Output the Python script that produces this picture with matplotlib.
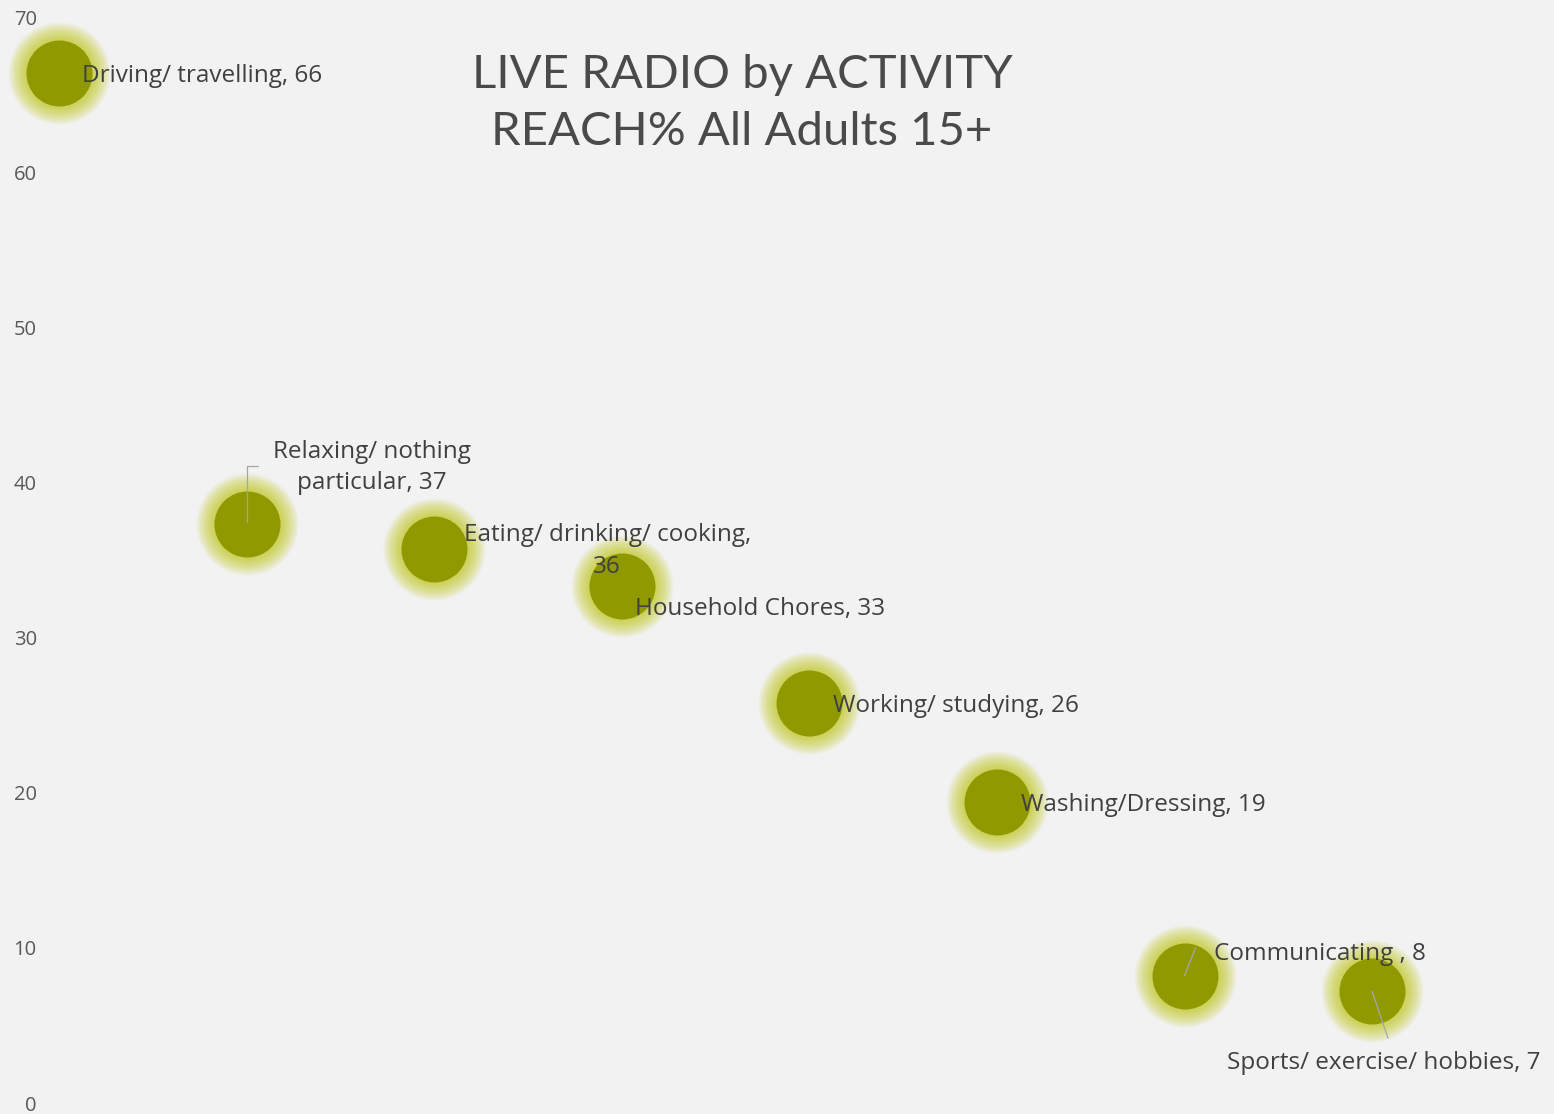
import matplotlib
matplotlib.use("Agg")
import matplotlib.pyplot as plt

# live radio reach by activity, all adults 15+
activities = ["Driving/ travelling", "Relaxing/ nothing\nparticular", "Eating/ drinking/ cooking,\n",
              "Household Chores", "Working/ studying", "Washing/Dressing",
              "Communicating ", "Sports/ exercise/ hobbies"]
reach = [66.4, 37.3, 35.7, 33.3, 25.8, 19.4, 8.2, 7.2]
order = [1, 2, 3, 4, 5, 6, 7, 8]
yticks = [0, 10, 20, 30, 40, 50, 60, 70]

# label offsets in pixels from each bubble centre, plus alignment
label_pos = [(23, -3, "left"), (125, 57, "center"), (173, -2, "center"), (13, -23, "left"),
             (24, -3, "left"), (24, -3, "left"), (29, 22, "left"), (-145, -72, "left")]

bg = "#f2f2f2"
core = "#919900"
glow = "#bcc400"
txt = "#404040"

plt.rcParams['font.family'] = ['Open Sans', 'DejaVu Sans']

fig = plt.figure(figsize=(15.54, 11.14), dpi=100, facecolor=bg)
ax = fig.add_axes([0.029, 0.00987, 0.971, 0.9748], facecolor=bg)

# soft glow: stacked translucent discs shrinking toward the core
for i in range(16):
    d = (66 + 36 * (1 - i / 15)) / 1.3889
    ax.scatter(order, reach, s=d ** 2, color=glow, alpha=0.06, linewidths=0, zorder=1, clip_on=False)
ax.scatter(order, reach, s=(66 / 1.3889) ** 2, color=core, linewidths=0, zorder=2, clip_on=False)

for x, y, name, (dx, dy, ha) in zip(order, reach, activities, label_pos):
    if name.endswith("\n"):
        text = name + str(round(y))
    else:
        text = name + ", " + str(round(y))
    ax.annotate(text, (x, y), xytext=(dx, dy), textcoords="offset pixels",
                ha=ha, va="center", fontsize=17.5, color=txt, zorder=4,
                linespacing=1.42, multialignment="center")

# leader lines
lc = "#a6a6a6"
ax.annotate("", (order[1], reach[1]), xytext=(14, 58), textcoords="offset pixels",
            arrowprops=dict(arrowstyle="-", color=lc, lw=0.9,
                            connectionstyle="angle,angleA=0,angleB=90,rad=0"), zorder=3)
ax.annotate("", (order[6], reach[6]), xytext=(11, 28), textcoords="offset pixels",
            arrowprops=dict(arrowstyle="-", color=lc, lw=0.9, shrinkA=0, shrinkB=0), zorder=3)
ax.annotate("", (order[7], reach[7]), xytext=(16, -47), textcoords="offset pixels",
            arrowprops=dict(arrowstyle="-", color=lc, lw=0.9, shrinkA=0, shrinkB=0), zorder=3)

ax.set_xlim(0.925, 8.97)
ax.set_ylim(0, 70)
ax.set_yticks(yticks)
ax.set_xticks([])
ax.tick_params(axis="y", length=0, pad=6, labelsize=14.5, labelcolor="#595959")
for s in ax.spines.values():
    s.set_visible(False)

fig.text(0.4775, 0.907, "LIVE RADIO by ACTIVITY\nREACH% All Adults 15+", ha="center", va="center",
         fontsize=34, color="#4a4a4a", family=["Lato", "DejaVu Sans"],
         linespacing=1.45)

fig.savefig("out.png", dpi=100, facecolor=bg)
